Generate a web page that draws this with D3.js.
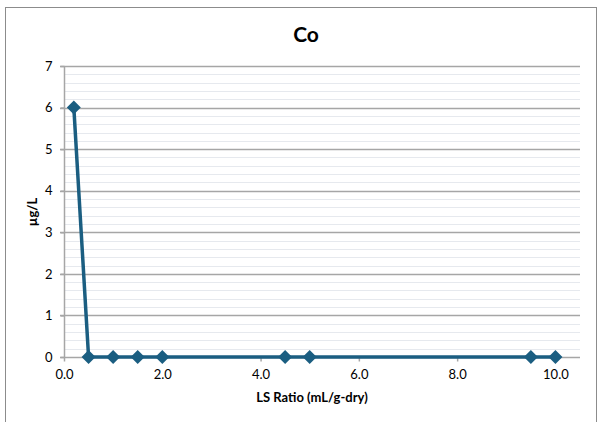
<!DOCTYPE html>
<html><head><meta charset="utf-8">
<script src="https://cdn.jsdelivr.net/npm/d3@7"></script>
<style>body{margin:0;background:#fff;}svg{display:block;font-family:Lato,"Open Sans",sans-serif;}</style>
</head><body>
<svg id="c" width="598" height="422"></svg>
<script>
const title = "Co";
const xLabel = "LS Ratio (mL/g-dry)";
const yLabel = "µg/L";
const xValues = [0.2, 0.5, 1.0, 1.5, 2.0, 4.5, 5.0, 9.5, 10.0];
const yValues = [6, 0, 0, 0, 0, 0, 0, 0, 0];
const xTicks = [0, 2, 4, 6, 8, 10];
const yTicks = [0, 1, 2, 3, 4, 5, 6, 7];

const svg = d3.select("#c");
svg.append("rect").attr("x",5.5).attr("y",7.5).attr("width",591).attr("height",420)
  .attr("fill","#fff").attr("stroke","#8c8c8c").attr("stroke-width",1);

const m = {l:64, r:580, t:66, b:357};
const x = d3.scaleLinear().domain([0,10.5]).range([m.l,m.r]);
const y = d3.scaleLinear().domain([0,7]).range([m.b,m.t]);

// minor gridlines
const minor = d3.range(0,7.001,0.2).filter(v=>Math.abs(v-Math.round(v))>1e-6);
svg.append("g").selectAll("line").data(minor).join("line")
  .attr("x1",m.l).attr("x2",m.r).attr("y1",d=>Math.round(y(d))+0.5).attr("y2",d=>Math.round(y(d))+0.5)
  .attr("stroke","#e6e9ee").attr("stroke-width",1);

// major gridlines
svg.append("g").selectAll("line").data(yTicks.filter(d=>d>0)).join("line")
  .attr("x1",m.l-4).attr("x2",m.r).attr("y1",d=>Math.round(y(d))+0.5).attr("y2",d=>Math.round(y(d))+0.5)
  .attr("stroke","#a6a6a6").attr("stroke-width",1.5);

// y axis
const ya = svg.append("g").attr("transform",`translate(${m.l+0.5},0)`)
  .call(d3.axisLeft(y).tickValues(yTicks).tickSize(4).tickPadding(8).tickFormat(d3.format("d")));
ya.select(".domain").attr("stroke","#a6a6a6").attr("stroke-width",1.5).attr("d",`M0,${m.t}V${m.b}`);
ya.selectAll(".tick line").attr("stroke","#a6a6a6").attr("stroke-width",1.5);
ya.selectAll(".tick text").attr("font-size",13).attr("fill","#000").attr("font-family","Lato,'Open Sans',sans-serif");

// x axis
const xa = svg.append("g").attr("transform",`translate(0,${m.b+0.5})`)
  .call(d3.axisBottom(x).tickValues(xTicks).tickSize(4).tickPadding(8).tickFormat(d3.format(".1f")));
xa.select(".domain").attr("stroke","#a6a6a6").attr("stroke-width",1.5).attr("d",`M${m.l-4},0H${m.r}`);
xa.selectAll(".tick line").attr("stroke","#a6a6a6").attr("stroke-width",1.5);
xa.selectAll(".tick text").attr("font-size",13).attr("fill","#000").attr("font-family","Lato,'Open Sans',sans-serif");

// series
const pts = xValues.map((v,i)=>[v,yValues[i]]);
const col = "#1b5e81";
svg.append("path").datum(pts)
  .attr("d",d3.line().x(d=>x(d[0])).y(d=>y(d[1])))
  .attr("fill","none").attr("stroke",col).attr("stroke-width",3.5).attr("stroke-linejoin","round");
svg.append("g").selectAll("path").data(pts).join("path")
  .attr("transform",d=>`translate(${x(d[0])},${y(d[1])})`)
  .attr("d","M0,-7L7,0L0,7L-7,0Z").attr("fill",col);

// texts
svg.append("text").attr("x",306).attr("y",42).attr("text-anchor","middle")
  .attr("font-size",21).attr("font-weight","bold").text(title);
svg.append("text").attr("x",312).attr("y",402).attr("text-anchor","middle")
  .attr("font-size",13).attr("font-weight","bold").text(xLabel);
svg.append("text").attr("transform","translate(37,212) rotate(-90)").attr("text-anchor","middle")
  .attr("font-size",13).attr("font-weight","bold").text(yLabel);
</script>
</body></html>
